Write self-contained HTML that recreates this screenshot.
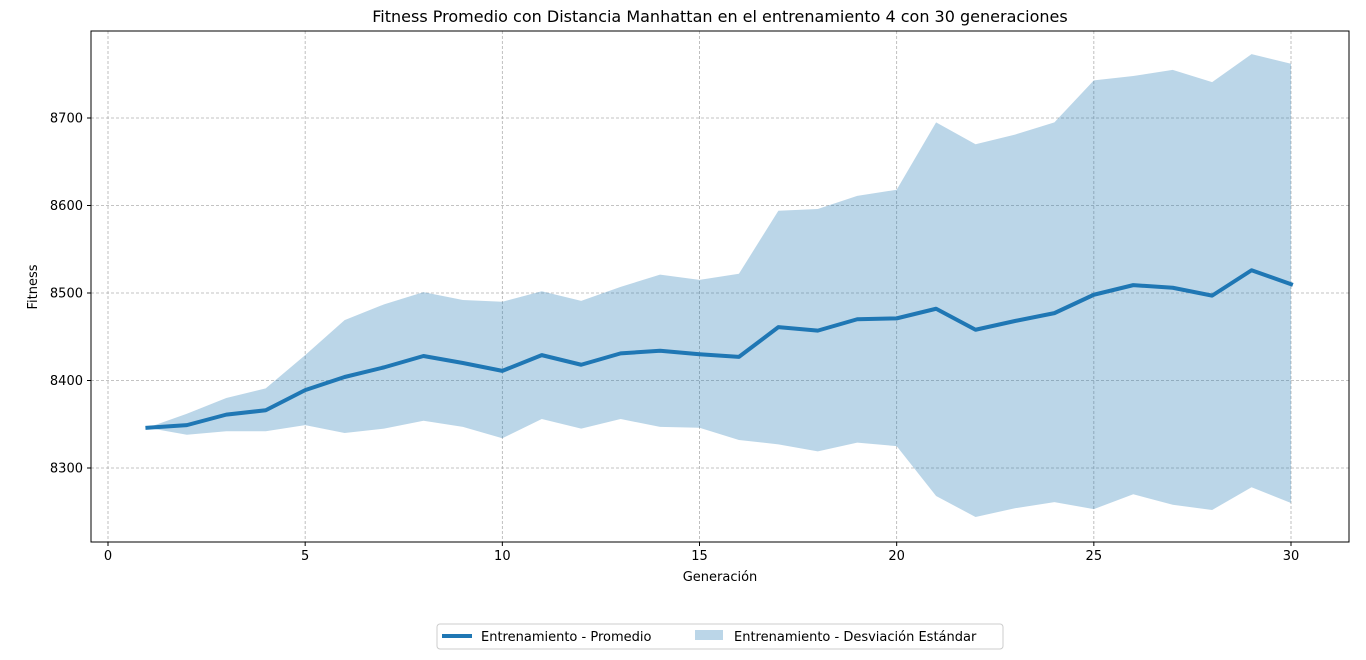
<!DOCTYPE html>
<html><head><meta charset="utf-8"><style>
body{margin:0;background:#fff;font-family:"Liberation Sans","DejaVu Sans",sans-serif}
svg text{font-family:"DejaVu Sans","Liberation Sans",sans-serif}
</style></head><body>
<svg id="chart" width="1366" height="655" xmlns="http://www.w3.org/2000/svg"></svg>
<script>
const generations=[1,2,3,4,5,6,7,8,9,10,11,12,13,14,15,16,17,18,19,20,21,22,23,24,25,26,27,28,29,30];
const meanFitness=[8346,8349,8361,8366,8389,8404,8415,8428,8420,8411,8429,8418,8431,8434,8430,8427,8461,8457,8470,8471,8482,8458,8468,8477,8498,8509,8506,8497,8526,8510];
const upperBand=[8346,8362,8380,8391,8429,8469,8487,8501,8492,8490,8502,8491,8507,8521,8515,8522,8594,8596,8611,8618,8695,8670,8681,8695,8743,8748,8755,8741,8773,8762];
const lowerBand=[8346,8338,8342,8342,8349,8340,8345,8354,8347,8334,8356,8345,8356,8347,8346,8332,8327,8319,8329,8325,8268,8244,8254,8261,8253,8270,8258,8252,8278,8260];
const xTicks=[0,5,10,15,20,25,30];
const yTicks=[8300,8400,8500,8600,8700];

const L=91,R=1349,T=31,B=542;
const sx=v=>108+(v-0)*(1291-108)/30;
const sy=v=>468-(v-8300)*(468-118)/400;
const svg=document.getElementById('chart');
const NS='http://www.w3.org/2000/svg';
function mk(tag,attrs,parent){const e=document.createElementNS(NS,tag);for(const k in attrs)e.setAttribute(k,attrs[k]);(parent||svg).appendChild(e);return e;}

// grid
xTicks.forEach(t=>{const l=mk('line',{x1:sx(t),x2:sx(t),y1:T,y2:B,stroke:'#b0b0b0','stroke-dasharray':'3,2','stroke-width':0.8});
});
yTicks.forEach(t=>{const l=mk('line',{x1:L,x2:R,y1:sy(t),y2:sy(t),stroke:'#b0b0b0','stroke-dasharray':'3,2','stroke-width':0.8});
});

// band
let d='';
generations.forEach((g,i)=>{d+=(i?'L':'M')+sx(g)+','+sy(upperBand[i]);});
for(let i=generations.length-1;i>=0;i--)d+='L'+sx(generations[i])+','+sy(lowerBand[i]);
const band=mk('path',{d:d+'Z',fill:'#1f77b4','fill-opacity':0.3,stroke:'none'});



// line
const pts=generations.map((g,i)=>sx(g)+','+sy(meanFitness[i])).join(' ');
const line=mk('polyline',{points:pts,fill:'none',stroke:'#1f77b4','stroke-width':4,'stroke-linejoin':'round','stroke-linecap':'square'});



// frame
const fr=mk('rect',{x:L,y:T,width:R-L,height:B-T,fill:'none',stroke:'#000','stroke-width':1});



// ticks
xTicks.forEach(t=>{mk('line',{x1:sx(t),x2:sx(t),y1:B,y2:B+4,stroke:'#000'});
const tx=mk('text',{x:sx(t),y:B+18,'font-size':13,'text-anchor':'middle'});tx.textContent=t;
});
yTicks.forEach(t=>{mk('line',{x1:L-4,x2:L,y1:sy(t),y2:sy(t),stroke:'#000'});
const tx=mk('text',{x:L-8,y:sy(t)+4.5,'font-size':13,'text-anchor':'end'});tx.textContent=t;
});

// titles
const title=mk('text',{x:720,y:22,'font-size':16,'text-anchor':'middle'});title.textContent='Fitness Promedio con Distancia Manhattan en el entrenamiento 4 con 30 generaciones';

const xt=mk('text',{x:720,y:581,'font-size':13,'text-anchor':'middle'});xt.textContent='Generación';

const yt=mk('text',{x:37,y:287,'font-size':13,'text-anchor':'middle',transform:'rotate(-90 37 287)'});yt.textContent='Fitness';


// legend
const lg=mk('g',{});

mk('rect',{x:437,y:624,width:566,height:25,fill:'#fff',stroke:'#ccc',rx:3},lg);
mk('line',{x1:442,x2:472,y1:636,y2:636,stroke:'#1f77b4','stroke-width':4},lg);
const l1=mk('text',{x:481,y:641,'font-size':13},lg);l1.textContent='Entrenamiento  - Promedio';

mk('rect',{x:695,y:630,width:28,height:10,fill:'#1f77b4','fill-opacity':0.3},lg);
const l2=mk('text',{x:734,y:641,'font-size':13},lg);l2.textContent='Entrenamiento  - Desviación Estándar';

</script>
</body></html>
